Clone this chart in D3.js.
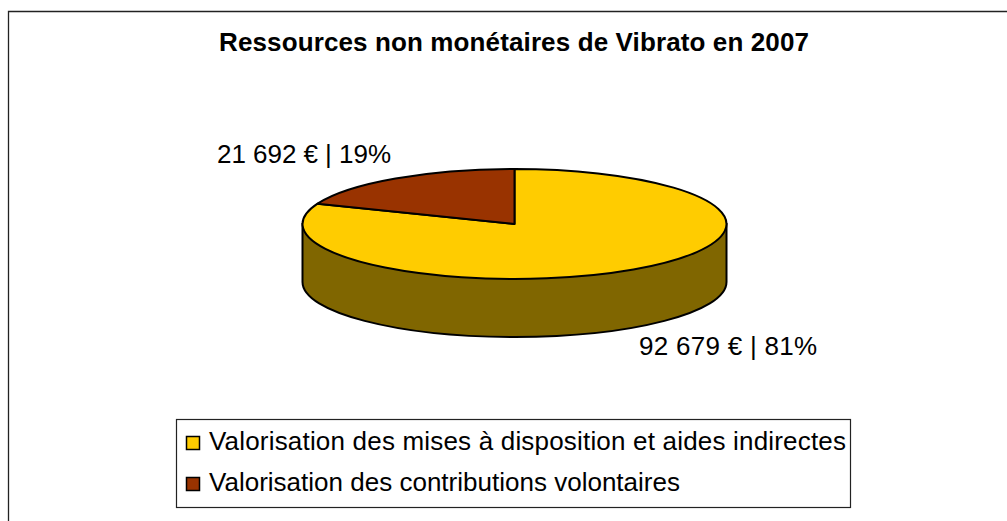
<!DOCTYPE html>
<html><head><meta charset="utf-8">
<script src="https://cdn.jsdelivr.net/npm/d3@7"></script>
<style>html,body{margin:0;padding:0;background:#fff;overflow:hidden}svg{display:block}text{font-family:"Liberation Sans",Arial,sans-serif;fill:#000}</style>
</head><body><svg id="c" width="1007" height="521"></svg>
<script>
const title = "Ressources non monétaires de Vibrato en 2007";
const categories = ["Valorisation des mises à disposition et aides indirectes","Valorisation des contributions volontaires"];
const values = [92679, 21692];
const pieLabels = ["92 679 € | 81%","21 692 € | 19%"];
const colors = ["#FFCC00","#993300"];
const sideColor = "#806600";

const W=1007,H=521,cx=514.5,cy=224,rx=212,ry=55,depth=58;
const svg=d3.select("#c");
svg.append("path").attr("d",`M8.5,${H}V11.5H${W}`).attr("fill","none").attr("stroke","#222").attr("stroke-width",1.3);
svg.append("text").attr("x",219).attr("y",51).attr("font-size",26).attr("font-weight","bold")
 .attr("textLength",590).attr("lengthAdjust","spacing").text(title);

const g=svg.append("g").attr("transform",`translate(${cx},${cy})`);
const p=d3.path();
p.moveTo(-rx,0);p.lineTo(-rx,depth);
p.bezierCurveTo(-rx,depth+ry*0.5523,-rx*0.5523,depth+ry,0,depth+ry);
p.bezierCurveTo(rx*0.5523,depth+ry,rx,depth+ry*0.5523,rx,depth);
p.lineTo(rx,0);p.closePath();
g.append("path").attr("d",p.toString()).attr("fill",sideColor).attr("stroke","#000").attr("stroke-width",2);
const pie=d3.pie().sort(null)(values);
const arc=d3.arc().innerRadius(0).outerRadius(rx);
g.append("g").attr("transform",`scale(1,${ry/rx})`).selectAll("path").data(pie).join("path")
 .attr("d",arc).attr("fill",(d,i)=>colors[i]).attr("stroke","#000").attr("stroke-width",2).attr("vector-effect","non-scaling-stroke").attr("stroke-linejoin","round");
const labelPos=[[639,355],[217,163]];
svg.selectAll("text.l").data(pieLabels).join("text").attr("class","l")
 .attr("x",(d,i)=>labelPos[i][0]).attr("y",(d,i)=>labelPos[i][1]).attr("font-size",26)
 .attr("textLength",(d,i)=>[178,174][i]).attr("lengthAdjust","spacing").text(d=>d);
svg.append("rect").attr("x",176.5).attr("y",419.5).attr("width",674).attr("height",88).attr("fill","#fff").attr("stroke","#222").attr("stroke-width",1.2);
const y=d3.scalePoint().domain(categories).range([441,482]);
const lg=svg.selectAll("g.lg").data(categories).join("g").attr("class","lg").attr("transform",d=>`translate(0,${y(d)})`);
lg.append("rect").attr("x",186.5).attr("y",-4.5).attr("width",13).attr("height",13).attr("fill",(d,i)=>colors[i]).attr("stroke","#000").attr("stroke-width",1.5);
lg.append("text").attr("x",209).attr("y",8.5).attr("font-size",26)
 .attr("textLength",(d,i)=>[637,471][i]).attr("lengthAdjust","spacing").text(d=>d);
</script></body></html>
